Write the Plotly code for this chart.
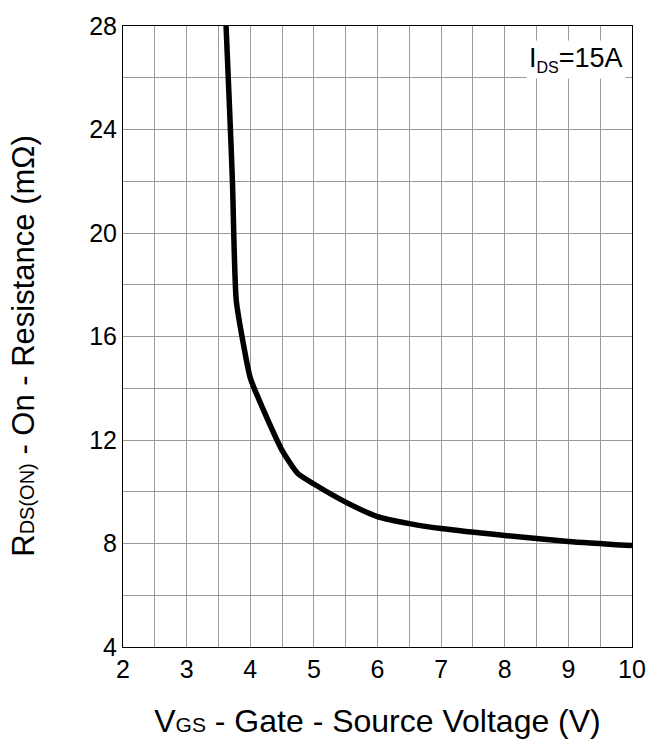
import plotly.graph_objects as go

vgs = [3.62, 3.68, 3.72, 3.78, 3.9, 4.0, 4.2, 4.5, 4.75, 5.0, 5.5, 6.0, 6.5, 7.0, 8.0, 9.0, 10.0]
rds = [28.0, 24.5, 22.0, 17.4, 15.6, 14.4, 13.2, 11.6, 10.7, 10.3, 9.6, 9.04, 8.77, 8.58, 8.31, 8.08, 7.92]

x_ticks = [2, 3, 4, 5, 6, 7, 8, 9, 10]
y_ticks = [4, 8, 12, 16, 20, 24, 28]

fig = go.Figure()
fig.add_trace(go.Scatter(x=vgs, y=rds, mode="lines",
                         line=dict(color="black", width=5.5, shape="spline", smoothing=0.6),
                         showlegend=False, hoverinfo="skip"))

font = "Liberation Sans, Arial, sans-serif"
grid_col = "#9a9a9a"

fig.update_layout(
    width=649, height=739,
    margin=dict(l=123, r=17, t=26, b=92, autoexpand=False),
    paper_bgcolor="white", plot_bgcolor="white",
    font=dict(family=font, color="black", size=25),
    xaxis=dict(range=[2, 10], tickvals=x_ticks, ticks="", showgrid=True,
               gridcolor=grid_col, gridwidth=1, automargin=False,
               minor=dict(dtick=0.5, showgrid=True, gridcolor=grid_col, gridwidth=1),
               showline=True, linecolor="black", linewidth=1, mirror=True,
               zeroline=False, tickfont=dict(size=25),
               title=dict(text="V<span style='font-size:21px'>GS</span> - Gate - Source Voltage (V)",
                          font=dict(size=32), standoff=27)),
    yaxis=dict(range=[4, 28], tickvals=y_ticks, ticks="", showgrid=True,
               gridcolor=grid_col, gridwidth=1, automargin=False,
               minor=dict(dtick=2, showgrid=True, gridcolor=grid_col, gridwidth=1),
               showline=True, linecolor="black", linewidth=1, mirror=True,
               zeroline=False, tickfont=dict(size=25)),
    annotations=[
        dict(text="I<sub><span style='font-size:16px'>DS</span></sub>=15A", xref="paper", yref="paper",
             x=1.0, y=0.9775, xanchor="right", yanchor="top", showarrow=False, xshift=-6,
             bgcolor="white", font=dict(size=27, family=font), borderpad=2),
        dict(text="R<span style='font-size:20px'>DS(ON)</span> - On - Resistance (mΩ)",
             xref="paper", yref="paper", x=-0.197, y=0.4847, xanchor="center", yanchor="middle",
             textangle=-90, showarrow=False, font=dict(size=31, family=font)),
    ],
)

fig.write_html("out.html")
